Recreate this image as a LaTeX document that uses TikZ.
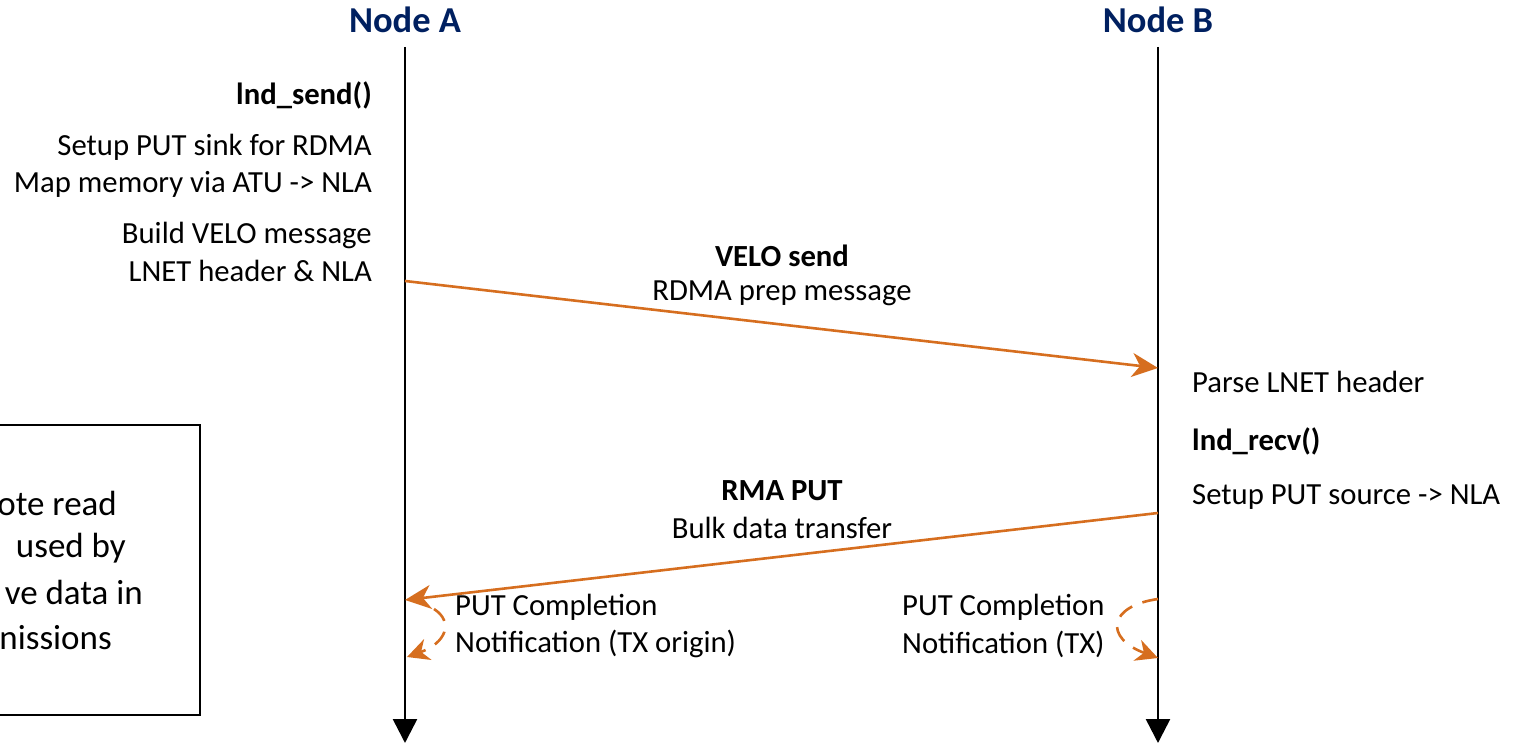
\documentclass[tikz,border=0pt]{standalone}
\usepackage{fontspec}
\setmainfont{Carlito}
\usepackage{xcolor}
\usetikzlibrary{arrows.meta, positioning}
\definecolor{navyblue}{RGB}{0,32,96}
\definecolor{msgorange}{RGB}{214,110,31}

\tikzset{
    txt/.style={inner sep=0pt, font=\fontsize{30.7}{37.5}\selectfont},
    boldtxt/.style={txt, font=\fontsize{30.7}{37.5}\selectfont\bfseries},
    boxtxt/.style={anchor=east, inner sep=0pt, font=\fontsize{35}{44}\selectfont},
    hostlabel/.style={inner sep=0pt, text=navyblue, font=\fontsize{36.5}{40}\selectfont\bfseries},
    lifeline/.style={line width=2.6pt, -{Triangle[length=24pt,width=24pt]}},
    msgline/.style={msgorange, line width=2.6pt, -{Stealth[length=26pt,width=24pt,inset=8pt]}},
    loopline/.style={msgorange, line width=2.6pt, dash pattern=on 16pt off 11pt, -{Stealth[length=22pt,width=22pt,inset=7pt]}}
}

\begin{document}
\begin{tikzpicture}[x=1pt, y=-1pt]
    \clip (0,0) rectangle (1516,743);

    % Host labels and lifelines
    \node[hostlabel] (hostA) at (405,20) {Node A};
    \node[hostlabel] (hostB) at (1158,20) {Node B};
    \coordinate (topA) at (405,47);
    \coordinate (topB) at (1158,47);
    \coordinate (endA) at (405,743);
    \coordinate (endB) at (1158,743);
    \draw[lifeline] (topA) -- (endA);
    \draw[lifeline] (topB) -- (endB);

    % Node A side notes
    \node[boldtxt, anchor=east] (sendcall) at (372,95) {lnd\_send()};
    \node[txt, anchor=east, align=right] (sinksetup) at (372,166) {Setup PUT sink for RDMA\\Map memory via ATU -> NLA};
    \node[txt, anchor=east, align=right] (buildmsg) at (372,252) {Build VELO message\\LNET header \& NLA};

    % VELO send message
    \coordinate (veloA) at (405,281);
    \coordinate (veloB) at (1158,368);
    \draw[msgline] (veloA) -- (veloB);
    \node[boldtxt] (velolabel) at (782,256) {VELO send};
    \node[txt] (prepmsg) at (782,293) {RDMA prep message};

    % Node B side notes
    \node[txt, anchor=west] (parsehdr) at (1192,382) {Parse LNET header};
    \node[boldtxt, anchor=west] (recvcall) at (1192,441) {lnd\_recv()};
    \node[txt, anchor=west] (srcsetup) at (1192,497) {Setup PUT source -> NLA};

    % RMA PUT message
    \coordinate (putB) at (1158,513);
    \coordinate (putA) at (405,600);
    \draw[msgline] (putB) -- (putA);
    \node[boldtxt] (putlabel) at (782,491) {RMA PUT};
    \node[txt] (bulkmsg) at (782,528) {Bulk data transfer};

    % Completion notifications
    \node[txt, anchor=west, align=left] (doneA) at (455,626) {PUT Completion\\Notification (TX origin)};
    \node[txt, anchor=west, align=left] (doneB) at (902,626) {PUT Completion\\Notification (TX)};
    \coordinate (loopAin) at (434,609);
    \coordinate (loopAout) at (407,657);
    \coordinate (loopBin) at (1158,599);
    \coordinate (loopBout) at (1158,658);
    \draw[loopline] (loopAin) .. controls (454,622) and (446,643) .. (loopAout);
    \draw[loopline] (loopBin) .. controls (1108,606) and (1104,638) .. (loopBout);

    % Side box (cut off at the left edge)
    \draw[line width=1.2pt] (-20,425) rectangle (200,715);
    \node[boxtxt] (boxl1) at (117,503) {ote read};
    \node[boxtxt] (boxl2) at (126,548) {used by};
    \node[boxtxt] (boxl3) at (143,592) {ve data in};
    \node[boxtxt] (boxl4) at (112,638) {nissions};
\end{tikzpicture}
\end{document}
